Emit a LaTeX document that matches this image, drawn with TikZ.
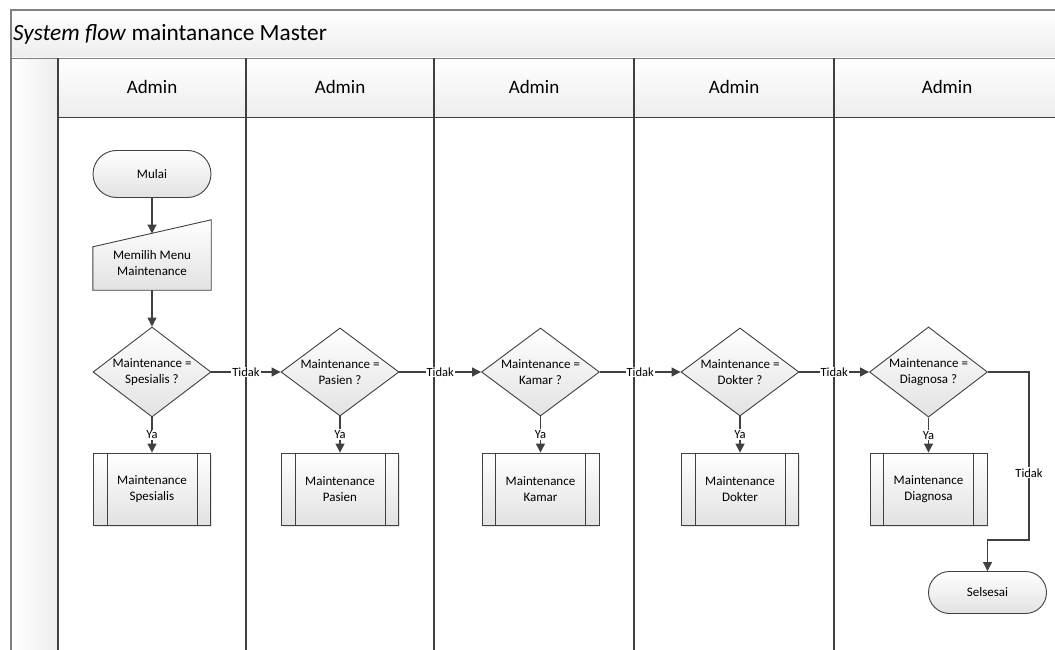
\documentclass[tikz,border=0pt]{standalone}
\usepackage{fontspec}
\setmainfont{Carlito}
\usetikzlibrary{shapes.geometric,shapes.misc,arrows.meta,shadows}
\definecolor{lineC}{HTML}{404040}
\definecolor{frameC}{HTML}{808080}
\definecolor{fillB}{HTML}{E2E2E2}
\definecolor{bandB}{HTML}{EDEDED}
\tikzset{
  shapefill/.style={draw=lineC, line width=0.9pt, top color=white, bottom color=fillB},
  shapebase/.style={shapefill, font=\fontsize{13}{16}\selectfont, align=center, text=black},
  term/.style={shapebase, rounded rectangle, minimum width=118pt, minimum height=47pt, inner sep=0pt},
  decision/.style={shapebase, diamond, minimum width=118pt, minimum height=82pt, inner sep=-4pt},
  subproc/.style={shapebase, rectangle, minimum width=117pt, minimum height=72pt, inner sep=0pt,
    drop shadow={opacity=0.2, shadow xshift=1.2pt, shadow yshift=-1.5pt}},
  flow/.style={draw=lineC, line width=1.2pt, -{Triangle[length=9pt,width=9pt]}},
  lbl/.style={fill=white, inner sep=1pt, font=\fontsize{12.5}{14}\selectfont, text=black},
  lane/.style={draw=lineC, line width=1.1pt},
  hdr/.style={font=\fontsize{19}{22}\selectfont, text=black},
  plaintext/.style={font=\fontsize{13}{16}\selectfont, align=center, text=black},
}
\begin{document}
\begin{tikzpicture}[x=1pt,y=-1pt]
\clip (0,0) rectangle (1055,650);
\fill[white] (0,0) rectangle (1055,650);
% title band
\shade[top color=white, bottom color=bandB] (11,10) rectangle (1060,58);
% header row
\shade[top color=white, bottom color=bandB] (58,58) rectangle (1060,117);
% left band
\shade[left color=white, right color=bandB] (11,58) rectangle (58,650);
% frame
\draw[frameC, line width=1.1pt] (11,650) -- (11,10) -- (1060,10);
\draw[frameC, line width=0.9pt] (11,58) -- (1060,58);
\draw[lineC, line width=0.9pt] (58,117) -- (1060,117);
% lanes
\foreach \lx in {58,246,434,634,834} {\draw[lane] (\lx,58) -- (\lx,650);}
\node[anchor=west, font=\fontsize{23.3}{27}\selectfont, text=black, inner sep=0pt] (title) at (13,34) {\textit{System flow} maintanance Master};
\node[hdr] (h1) at (152,87) {Admin};
\node[hdr] (h2) at (340,87) {Admin};
\node[hdr] (h3) at (534,87) {Admin};
\node[hdr] (h4) at (734,87) {Admin};
\node[hdr] (h5) at (947,87) {Admin};
% shapes
\node[term] (mulai) at (152,174) {Mulai};
\node[inner sep=0pt, minimum width=118pt, minimum height=70pt] (menu) at (152,255) {};
\draw[shapefill] (menu.south west) -- (menu.south east) -- (menu.north east) -- ([yshift=-27pt]menu.north west) -- cycle;
\node[plaintext] (menutext) at (152,263) {Memilih Menu\\Maintenance};
\coordinate (menutop) at (152,233.5);

\node[decision] (d1) at (152,372) {Maintenance =\\Spesialis ?};
\node[decision] (d2) at (340,372) {Maintenance =\\Pasien ?};
\node[decision] (d3) at (540.5,372) {Maintenance =\\Kamar ?};
\node[decision] (d4) at (740,372) {Maintenance =\\Dokter ?};
\node[decision] (d5) at (928.5,372) {Maintenance =\\Diagnosa ?};

\node[subproc] (p1) at (152,489) {Maintenance\\Spesialis};
\node[subproc] (p2) at (340,489) {Maintenance\\Pasien};
\node[subproc] (p3) at (540.5,489) {Maintenance\\Kamar};
\node[subproc] (p4) at (740,489) {Maintenance\\Dokter};
\node[subproc] (p5) at (928.5,489) {Maintenance\\Diagnosa};
\foreach \n in {p1,p2,p3,p4,p5} {
  \draw[lineC, line width=0.9pt] ([xshift=14pt]\n.north west) -- ([xshift=14pt]\n.south west);
  \draw[lineC, line width=0.9pt] ([xshift=-14pt]\n.north east) -- ([xshift=-14pt]\n.south east);
}
\node[term, minimum height=42pt] (sel) at (987.5,592.5) {Selsesai};

% connectors
\draw[flow] (mulai.south) -- (menutop);
\draw[flow] (menu.south) -- (d1.north);
\foreach \a/\b in {d1/p1,d2/p2,d3/p3,d4/p4,d5/p5} {
  \draw[flow] (\a.south) -- node[lbl]{Ya} (\b.north);
}
\foreach \a/\b in {d1/d2,d2/d3,d3/d4,d4/d5} {
  \draw[flow] (\a.east) -- node[lbl]{Tidak} (\b.west);
}
\coordinate (c1) at (1029,540);
\coordinate (c2) at (987.5,540);
\draw[flow] (d5.east) -| node[lbl, pos=0.8]{Tidak} (c1) -- (c2) -- (sel.north);
\end{tikzpicture}
\end{document}
